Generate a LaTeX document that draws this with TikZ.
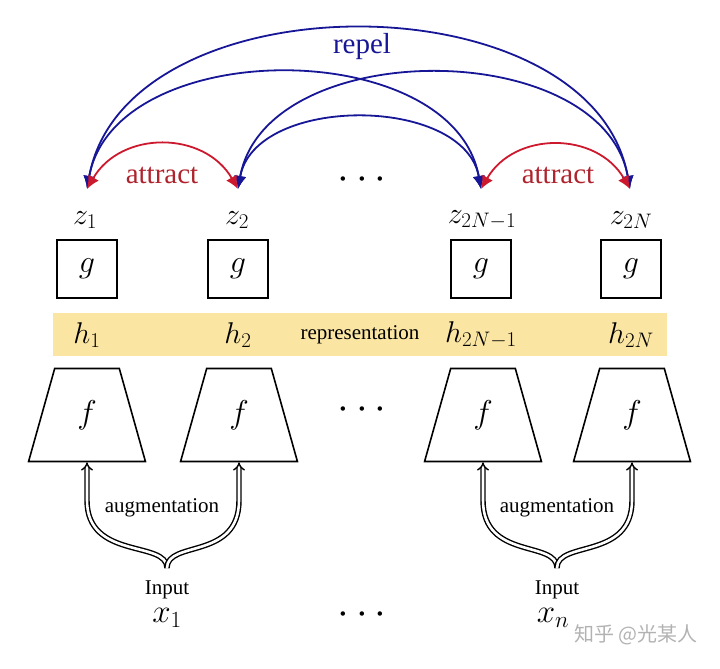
\RequirePackage{fix-cm}
\documentclass[tikz,border=0pt]{standalone}
\usepackage{fontspec}
\setmainfont{Liberation Serif}
\newfontfamily\cjkfont{Noto Sans CJK SC}
\usetikzlibrary{arrows.meta,positioning,shapes.geometric,calc}
\definecolor{repc}{RGB}{22,22,150}
\definecolor{attc}{RGB}{205,25,45}
\definecolor{attt}{RGB}{175,35,45}
\definecolor{bandc}{RGB}{250,229,162}
\tikzset{
  gbox/.style  = {draw, line width=1.6pt, minimum width=60pt, minimum height=58pt,
                  inner sep=0pt, font=\fontsize{32}{36}\selectfont},
  enc/.style   = {draw, line width=1.6pt, trapezium, trapezium angle=75,
                  trapezium stretches=true, minimum width=117pt, minimum height=93pt,
                  inner sep=0pt, font=\fontsize{33}{36}\selectfont},
  mlab/.style  = {inner sep=0pt, font=\fontsize{30}{34}\selectfont},
  xlab/.style  = {inner sep=0pt, font=\fontsize{33}{36}\selectfont},
  lab/.style   = {inner sep=0pt, font=\fontsize{21}{24}\selectfont},
  big/.style   = {inner sep=0pt, font=\fontsize{29}{34}\selectfont},
  dots/.style  = {inner sep=0pt, font=\fontsize{42}{44}\selectfont},
  rep/.style   = {{Latex[length=13pt,width=12pt]}-{Latex[length=13pt,width=12pt]},
                  repc, line width=1.8pt},
  att/.style   = {{Latex[length=13pt,width=12pt]}-{Latex[length=13pt,width=12pt]},
                  attc, line width=1.8pt},
  aug/.style   = {-{Implies[length=8pt,width=15pt]}, double, double distance=2.6pt,
                  line width=1.4pt},
}

\begin{document}
\begin{tikzpicture}[x=1pt,y=1pt]
\useasboundingbox (0,0) rectangle (720,669);

% ---- representation band ----
\node[fill=bandc, minimum width=614pt, minimum height=43pt, inner sep=0pt] (band) at (360,334.5) {};
\node[mlab] (h1) at (87,334) {$h_1$};
\node[mlab] (h2) at (238,334) {$h_2$};
\node[mlab] (h3) at (481,334) {$h_{2N-1}$};
\node[mlab] (h4) at (631,334) {$h_{2N}$};
\node[lab] (rep) at (360,334) {representation};

% ---- projection heads g ----
\node[gbox] (g1) at (87,400) {$g$};
\node[gbox] (g2) at (238,400) {$g$};
\node[gbox] (g3) at (481,400) {$g$};
\node[gbox] (g4) at (631,400) {$g$};
\node[mlab] (z1) at (85,449) {$z_1$};
\node[mlab] (z2) at (237,449) {$z_2$};
\node[mlab] (z3) at (482,449) {$z_{2N-1}$};
\node[mlab] (z4) at (631,449) {$z_{2N}$};

% ---- encoders f ----
\node[enc] (e1) at (87,254) {$f$};
\node[enc] (e2) at (239,254) {$f$};
\node[enc] (e3) at (483,254) {$f$};
\node[enc] (e4) at (632,254) {$f$};

% ---- dots ----
\node[dots] (d1) at (362,489) {$\cdots$};
\node[dots] (d2) at (362,259) {$\cdots$};
\node[dots] (d3) at (362,54) {$\cdots$};

% ---- repel / attract ----
\coordinate (t1) at (87,480);
\coordinate (t2) at (238,480);
\coordinate (t3) at (481,480);
\coordinate (t4) at (630,480);
\draw[rep] (t1) to[out=80,in=100,looseness=1.02] (t4);
\draw[rep] (t1) to[out=80,in=100,looseness=1.02] (t3);
\draw[rep] (t2) to[out=80,in=100,looseness=1.02] (t4);
\draw[rep] (t2) to[out=80,in=100,looseness=1.01] (t3);
\draw[att] (t1) to[out=60,in=120,looseness=1.15] (t2);
\draw[att] (t3) to[out=60,in=120,looseness=1.15] (t4);
\node[big, text=repc] (repel) at (362,622) {repel};
\node[big, text=attt] (att1) at (162,494) {attract};
\node[big, text=attt] (att2) at (558,494) {attract};

% ---- inputs and augmentation ----
\node[lab] (in1) at (167,79) {Input};
\node[xlab] (x1) at (167,51) {$x_1$};
\node[lab] (in2) at (557,79) {Input};
\node[xlab] (x2) at (553,51) {$x_n$};
\coordinate (j1) at (167,101);
\coordinate (j2) at (557,101);
\draw[aug] (j1) .. controls +(0,28) and +(0,-60) .. ($(e1.south)+(0,-38)$) -- (e1.south);
\draw[aug] (j1) .. controls +(0,28) and +(0,-60) .. ($(e2.south)+(0,-38)$) -- (e2.south);
\draw[aug] (j2) .. controls +(0,28) and +(0,-60) .. ($(e3.south)+(0,-38)$) -- (e3.south);
\draw[aug] (j2) .. controls +(0,28) and +(0,-60) .. ($(e4.south)+(0,-38)$) -- (e4.south);
\node[lab] (aug1) at (162,161) {augmentation};
\node[lab] (aug2) at (557,161) {augmentation};

% ---- watermark ----
\node[inner sep=0pt, text=black!30, font=\cjkfont\fontsize{20}{22}\selectfont] (wm) at (636,34) {知乎 @光某人};

\end{tikzpicture}
\end{document}
